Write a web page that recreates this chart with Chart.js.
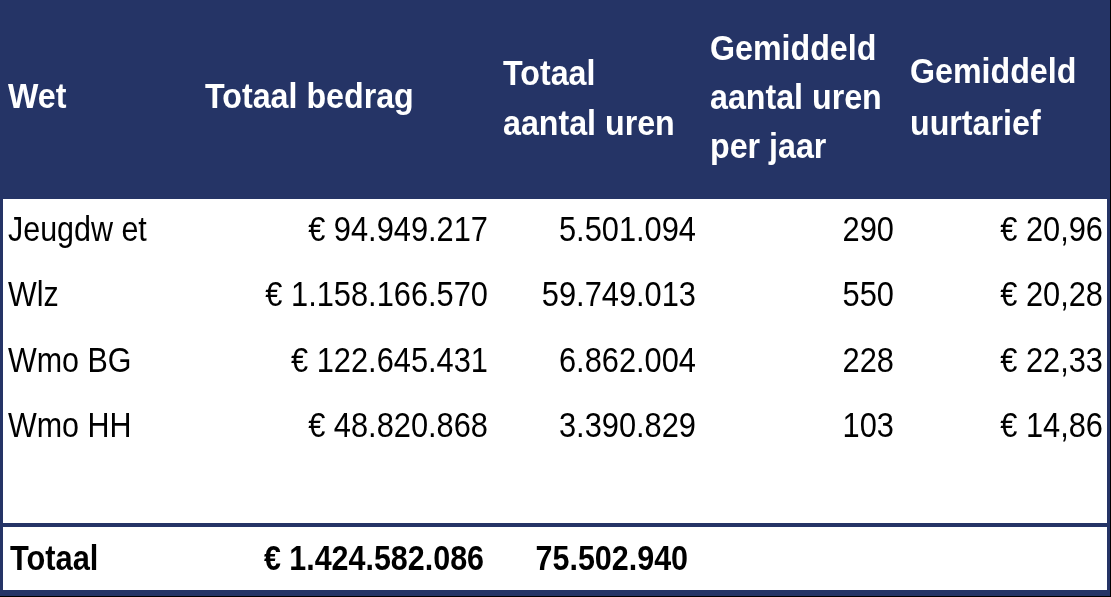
<!DOCTYPE html>
<html>
<head>
    <title>Uren en bedragen per wet</title>
    <style>
        body {
            margin: 0;
            background-color: #ffffff;
            overflow: hidden;
        }
        #wrap {
            width: 1111px;
            height: 597px;
        }
    </style>
</head>
<body>
    <div id="wrap">
        <canvas id="tableCanvas" width="1111" height="597"></canvas>
    </div>

    <script src="https://cdn.jsdelivr.net/npm/chart.js"></script>
    <script>
        // data
        const headers = [
            ['Wet'],
            ['Totaal bedrag'],
            ['Totaal', 'aantal uren'],
            ['Gemiddeld', 'aantal uren', 'per jaar'],
            ['Gemiddeld', 'uurtarief']
        ];
        const wetten = ['Jeugdw et', 'Wlz', 'Wmo BG', 'Wmo HH'];
        const totaalBedrag = [94949217, 1158166570, 122645431, 48820868];
        const totaalUren = [5501094, 59749013, 6862004, 3390829];
        const urenPerJaar = [290, 550, 228, 103];
        const uurtarief = [20.96, 20.28, 22.33, 14.86];
        const totaalLabel = 'Totaal';
        const totaalSomBedrag = 1424582086;
        const totaalSomUren = 75502940;

        // layout (in scale units, x and y run over the canvas)
        const navy = '#253466';
        const colLeft = [8, 205, 503, 710, 910];
        const colRight = [null, 488, 696, 894, 1103];
        const headerBase = [
            [108],
            [108],
            [85, 135],
            [60, 109, 158],
            [83, 135]
        ];
        const rowBase = [241, 306, 372, 437];
        const totalBase = 570;

        function fmtInt(n) {
            return String(Math.round(n)).replace(/\B(?=(\d{3})+(?!\d))/g, '.');
        }
        function fmtEuro(n) {
            return '\u20ac ' + fmtInt(n);
        }
        function fmtRate(n) {
            return '\u20ac ' + n.toFixed(2).replace('.', ',');
        }

        function drawText(ctx, text, x, y, align, sx) {
            ctx.save();
            ctx.translate(x, y);
            ctx.scale(sx, 1);
            ctx.textAlign = align;
            ctx.textBaseline = 'alphabetic';
            ctx.fillText(text, 0, 0);
            ctx.restore();
        }

        const tablePlugin = {
            id: 'tablePlugin',
            beforeDraw(chart) {
                const ctx = chart.ctx;
                const xs = chart.scales.x;
                const ys = chart.scales.y;
                const px = v => xs.getPixelForValue(v);
                const py = v => ys.getPixelForValue(v);

                ctx.save();
                // background + header band
                ctx.fillStyle = '#ffffff';
                ctx.fillRect(px(0), py(0), px(1111) - px(0), py(597) - py(0));
                ctx.fillStyle = navy;
                ctx.fillRect(px(0), py(0), px(1111) - px(0), py(199) - py(0));
                // frame
                ctx.fillRect(px(0), py(0), px(3) - px(0), py(597) - py(0));
                ctx.fillRect(px(1107), py(0), px(1110) - px(1107), py(597) - py(0));
                ctx.fillRect(px(0), py(590), px(1111) - px(0), py(596) - py(590));
                // separator above total row
                ctx.fillRect(px(0), py(523), px(1111) - px(0), py(527) - py(523));
                ctx.fillStyle = '#000000';
                ctx.fillRect(px(1110), py(0), 1, py(597) - py(0));
                ctx.fillRect(px(0), py(596), px(1111) - px(0), 1);

                // header text
                ctx.fillStyle = '#ffffff';
                ctx.font = 'bold 35px "Liberation Sans", Arial, sans-serif';
                headers.forEach((lines, c) => {
                    lines.forEach((line, i) => {
                        drawText(ctx, line, px(colLeft[c]), py(headerBase[c][i]), 'left', 0.92);
                    });
                });

                // body rows
                ctx.fillStyle = '#000000';
                ctx.font = '35px "Liberation Sans", Arial, sans-serif';
                wetten.forEach((wet, r) => {
                    const y = py(rowBase[r]);
                    drawText(ctx, wet, px(colLeft[0]), y, 'left', 0.87);
                    drawText(ctx, fmtEuro(totaalBedrag[r]), px(colRight[1]), y, 'right', 0.88);
                    drawText(ctx, fmtInt(totaalUren[r]), px(colRight[2]), y, 'right', 0.88);
                    drawText(ctx, fmtInt(urenPerJaar[r]), px(colRight[3]), y, 'right', 0.88);
                    drawText(ctx, fmtRate(uurtarief[r]), px(colRight[4]), y, 'right', 0.88);
                });

                // total row
                ctx.font = 'bold 35px "Liberation Sans", Arial, sans-serif';
                const ty = py(totalBase);
                drawText(ctx, totaalLabel, px(colLeft[0] + 2), ty, 'left', 0.88);
                drawText(ctx, fmtEuro(totaalSomBedrag), px(colRight[1] - 4), ty, 'right', 0.87);
                drawText(ctx, fmtInt(totaalSomUren), px(colRight[2] - 8), ty, 'right', 0.87);
                ctx.restore();
            }
        };

        const ctx = document.getElementById('tableCanvas').getContext('2d');
        const tableChart = new Chart(ctx, {
            type: 'scatter',
            data: {
                datasets: [{ data: [], pointRadius: 0 }]
            },
            options: {
                responsive: false,
                animation: false,
                devicePixelRatio: 1,
                layout: { padding: 0 },
                plugins: {
                    legend: { display: false },
                    tooltip: { enabled: false }
                },
                scales: {
                    x: { type: 'linear', min: 0, max: 1111, display: false },
                    y: { type: 'linear', min: 0, max: 597, reverse: true, display: false }
                }
            },
            plugins: [tablePlugin]
        });
    </script>
</body>
</html>
